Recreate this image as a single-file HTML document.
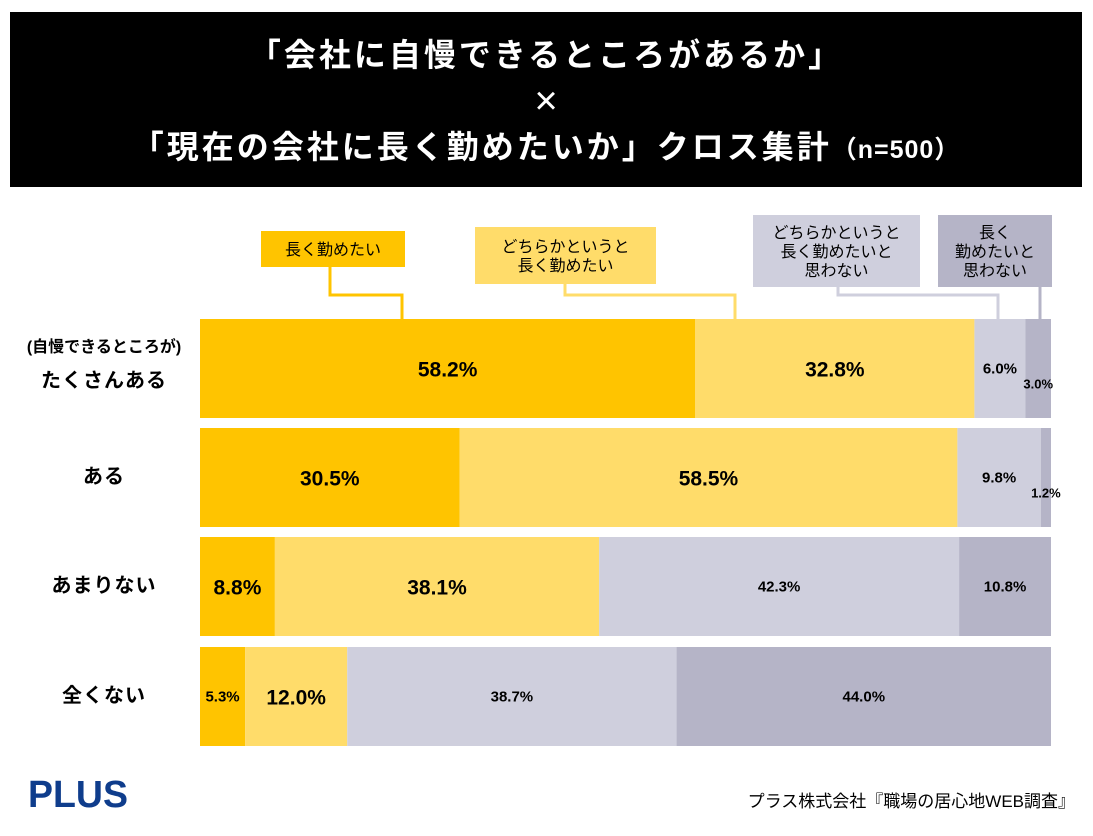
<!DOCTYPE html>
<html><head><meta charset="utf-8">
<style>
body{margin:0;background:#fff;width:1093px;height:831px;overflow:hidden;font-family:"Liberation Sans","Noto Sans CJK JP",sans-serif;}
svg text{font-family:"Liberation Sans","Noto Sans CJK JP",sans-serif;}
</style></head>
<body>
<svg id="chart" width="1093" height="831">
<rect x="10" y="12" width="1072" height="175" fill="#000"/>
<g fill="#fff" font-weight="bold" text-anchor="middle">
<text x="546" y="66" font-size="32" letter-spacing="3">「会社に自慢できるところがあるか」</text>
<text x="546" y="114" font-size="40" font-weight="normal">×</text>
<text x="546" y="158" font-size="32" letter-spacing="3">「現在の会社に長く勤めたいか」クロス集計<tspan font-size="25" letter-spacing="1">（n=500）</tspan></text>
</g>
<g id="legend"></g>
<g id="bars"></g>
<text x="28" y="807" font-size="38" font-weight="bold" fill="#0f3d8c" textLength="100" lengthAdjust="spacingAndGlyphs">PLUS</text>
<text x="1075" y="807" font-size="17" text-anchor="end" fill="#000">プラス株式会社『職場の居心地WEB調査』</text>
</svg>
<script>
const categories=[["(自慢できるところが)","たくさんある"],["ある"],["あまりない"],["全くない"]];
const seriesNames=["長く勤めたい","どちらかというと長く勤めたい","どちらかというと長く勤めたいと思わない","長く勤めたいと思わない"];
const s1=[58.2,30.5,8.8,5.3];
const s2=[32.8,58.5,38.1,12.0];
const s3=[6.0,9.8,42.3,38.7];
const s4=[3.0,1.2,10.8,44.0];
const series=[s1,s2,s3,s4];
const colors=["#ffc400","#ffdc6a","#cfcfdd","#b5b4c7"];
const NS="http://www.w3.org/2000/svg";
const X0=200,W=851,rowY=[319,428,537,647],H=99;
function xs(v){return v/100*W;}
const bars=document.getElementById('bars');
function mk(tag,attrs,parent){const e=document.createElementNS(NS,tag);for(const k in attrs)e.setAttribute(k,attrs[k]);parent.appendChild(e);return e;}
categories.forEach((cat,i)=>{
  const y=rowY[i];
  const lab=mk('text',{x:104,'text-anchor':'middle','font-weight':'bold',fill:'#000'},bars);
  
  
  if(cat.length===2){
    mk('tspan',{x:104,y:y+33,'font-size':16},lab).textContent=cat[0];
    mk('tspan',{x:104,y:y+68,'font-size':20,'letter-spacing':1},lab).textContent=cat[1];
  }else{lab.setAttribute('y',y+55);lab.setAttribute('font-size',20);lab.setAttribute('letter-spacing',1);lab.textContent=cat[0];}
  let acc=0;
  series.forEach((s,j)=>{
    const v=s[i];const x=X0+xs(acc);const w=xs(v);
    const r=mk('rect',{x:x,y:y,width:w,height:H,fill:colors[j]},bars);
    
    
    const small=(j>=2)||v<6;
    let ty=y+H/2+(small?5:8);
    if(v<4)ty=y+H/2+20;
    const t=mk('text',{x:x+w/2,y:ty,'text-anchor':'middle','font-weight':'bold','font-size':small?(v<4?13:15):21,fill:'#000'},bars);
    
    
    t.textContent=v.toFixed(1)+'%';
    acc+=v;
  });
});
const lg=document.getElementById('legend');
const boxes=[
 {x:261,y:231,w:144,h:36,lines:["長く勤めたい"],lx:330,ex:402},
 {x:475,y:227,w:181,h:57,lines:["どちらかというと","長く勤めたい"],lx:565,ex:735},
 {x:753,y:215,w:167,h:72,lines:["どちらかというと","長く勤めたいと","思わない"],lx:838,ex:998},
 {x:938,y:215,w:114,h:72,lines:["長く","勤めたいと","思わない"],lx:1040,ex:1040}
];
boxes.forEach((b,j)=>{
  const col=colors[j];
  const p=mk('polyline',{points:`${b.lx},${b.y+b.h} ${b.lx},295 ${b.ex},295 ${b.ex},319`,fill:'none',stroke:col,'stroke-width':3},lg);
  
  
  const r=mk('rect',{x:b.x,y:b.y,width:b.w,height:b.h,fill:col},lg);
  
  
  const n=b.lines.length;const lh=19;
  const startY=b.y+b.h/2-(n-1)*lh/2+6;
  b.lines.forEach((ln,k)=>{
    const t=mk('text',{x:b.x+b.w/2,y:startY+k*lh,'text-anchor':'middle','font-size':16,fill:'#000'},lg);
    
    
    t.textContent=ln;
  });
});
</script>
</body></html>
